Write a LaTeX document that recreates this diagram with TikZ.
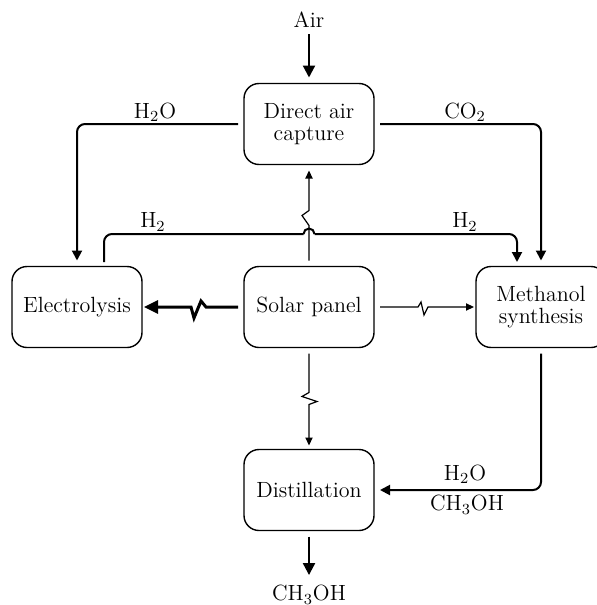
\documentclass[tikz,border=0pt]{standalone}
\usetikzlibrary{arrows.meta,calc}
\begin{document}
\begin{tikzpicture}[x=0.5pt,y=-0.5pt,
  font=\fontsize{11}{11}\selectfont,
  box/.style={draw, line width=0.7pt, rounded corners=7.5pt, minimum width=65pt,
    minimum height=40.5pt, align=center, outer sep=3pt, inner sep=2pt},
  lbl/.style={inner sep=1pt},
  flow/.style={line width=1pt, -{Triangle[length=5pt,width=5pt]}},
  line/.style={line width=1pt},
  thinarrow/.style={line width=0.6pt, -{Triangle[length=4pt,width=3.6pt]}},
  heavyarrow/.style={line width=1.5pt, -{Triangle[length=7pt,width=6.5pt]}},
  ioarrow/.style={line width=1.1pt, -{Triangle[length=6pt,width=6pt]}}]
\useasboundingbox (0,0) rectangle (596,605);

% boxes
\node[box] (dac)  at (309,124) {Direct air\\capture};
\node[box] (elec) at (77,307)  {Electrolysis};
\node[box] (sol)  at (309,307) {Solar panel};
\node[box] (meth) at (541,307) {Methanol\\synthesis};
\node[box] (dist) at (309,490) {Distillation};

% in / out labels
\node[lbl] (air) at (309,20) {Air};
\node[lbl] (out) at (309,595) {CH\textsubscript{3}OH};

% connector labels
\node[lbl] (lh2o) at (155,112) {H\textsubscript{2}O};
\node[lbl] (lco2) at (465,112) {CO\textsubscript{2}};
\node[lbl] (lh2a) at (153,222) {H\textsubscript{2}};
\node[lbl] (lh2b) at (465,222) {H\textsubscript{2}};
\node[lbl] (lh2o2) at (465,474) {H\textsubscript{2}O};
\node[lbl] (lmeoh) at (467,505) {CH\textsubscript{3}OH};

% hop coordinates on the H2 line
\coordinate (hopL) at (303.5,234);
\coordinate (hopR) at (314.5,234);
\coordinate (h2start) at (104,262);
\coordinate (h2end) at (517,262);

% Air in, methanol out
\draw[ioarrow,shorten <=2pt] (air) -- (dac);
\draw[ioarrow,shorten >=4pt] (dist) -- (out);

% H2O from DAC to electrolysis
\draw[flow,rounded corners=4pt] (dac.west) -| (elec.north);
% CO2 from DAC to methanol synthesis
\draw[flow,rounded corners=4pt] (dac.east) -| (meth.north);

% H2 from electrolysis to methanol synthesis with hop
\draw[line,rounded corners=4pt] (h2start) |- (hopL);
\draw[line] (hopL) arc[start angle=180,end angle=0,radius=2.75pt];
\draw[flow,rounded corners=4pt] (hopR) -| (h2end);

% solar power lines with zigzags
\draw[heavyarrow,shorten >=-2pt] (sol.west) -- ++(-32,0) -- ++(-5,-6) -- ++(-7,17) -- ++(-3,-11) -- (elec.east);
\draw[thinarrow,shorten >=-2pt] (sol.east) -- ++(38,0) -- ++(3,-5) -- ++(3,13) -- ++(4,-8) -- (meth.west);
\draw[thinarrow] (sol.north) -- ++(0,-35) -- ++(-7,-10) -- ++(7,-5) -- (dac.south);
\draw[thinarrow,shorten >=-1pt] (sol.south) -- ++(0,39) -- ++(-7,4) -- ++(15,5) -- ++(-8,3) -- (dist.north);

% methanol synthesis to distillation
\draw[flow,rounded corners=4pt] (meth.south) |- (dist.east);
\end{tikzpicture}
\end{document}
